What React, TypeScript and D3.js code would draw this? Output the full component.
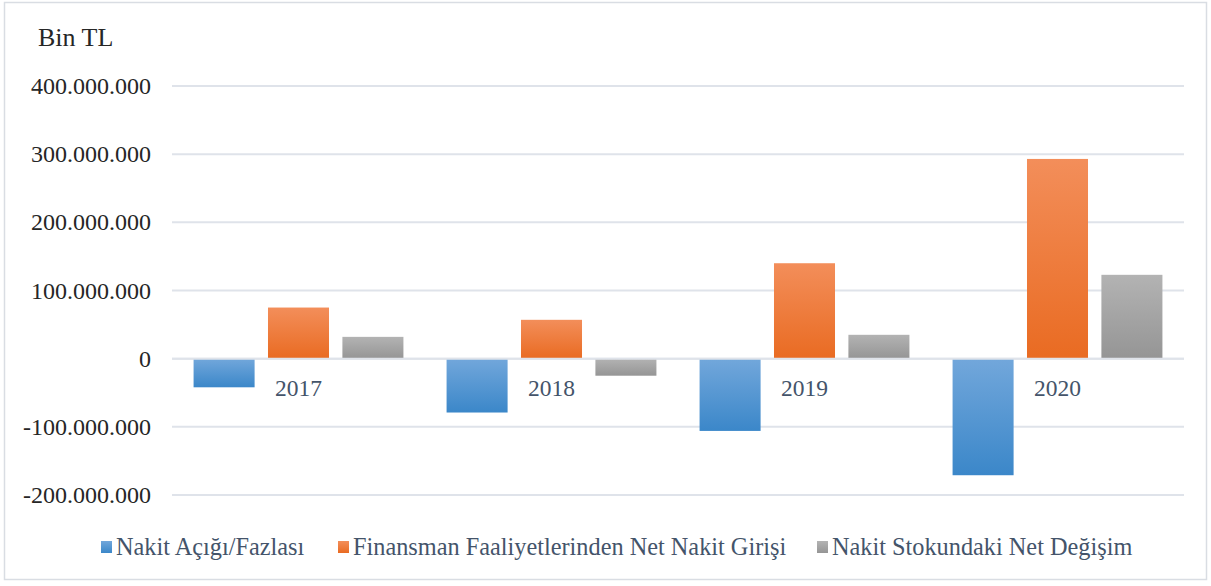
import React from "react";
import * as d3 from "d3";

const categories = ["2017", "2018", "2019", "2020"];
const seriesNames = [
  "Nakit Açığı/Fazlası",
  "Finansman Faaliyetlerinden Net Nakit Girişi",
  "Nakit Stokundaki Net Değişim",
];
const nakitAcigi = [-42000000, -79000000, -106000000, -171000000];
const finansman = [75000000, 57000000, 140000000, 293000000];
const stokDegisim = [32000000, -25000000, 35000000, 123000000];
const yTicks = [-200000000, -100000000, 0, 100000000, 200000000, 300000000, 400000000];

const seriesValues = [nakitAcigi, finansman, stokDegisim];
const gradients = [
  ["#72a7db", "#3b87c9"],
  ["#f38e5a", "#e96b22"],
  ["#b3b3b3", "#959595"],
];

const W = 1211;
const H = 586;
const left = 172;
const right = 1184;
const yTop = 86;
const yBottom = 495;
const SERIF = { fontFamily: "'Liberation Serif'" };

function fmt(v: number): string {
  const s = d3.format(",")(Math.abs(v)).replace(/,/g, ".");
  return (v < 0 ? "-" : "") + s;
}

export default function App() {
  const x = d3.scaleBand<string>().domain(categories).range([left, right]).paddingInner(0).paddingOuter(0);
  const inner = d3
    .scaleBand<number>()
    .domain([0, 1, 2])
    .range([0, x.bandwidth()])
    .paddingInner(0.18)
    .paddingOuter(0.29);
  const y = d3.scaleLinear().domain([-200000000, 400000000]).range([yBottom, yTop]);

  const legendSq = [101, 338, 817];

  return (
    <svg width={W} height={H} style={{ position: "absolute", left: 0, top: 0, background: "#fff" }}>
      <defs>
        {gradients.map((g, i) => (
          <linearGradient key={i} id={`grad${i}`} x1="0" y1="0" x2="0" y2="1">
            <stop offset="0%" stopColor={g[0]} />
            <stop offset="100%" stopColor={g[1]} />
          </linearGradient>
        ))}
      </defs>
      <rect x={4.5} y={2.5} width={1202} height={577} fill="#fff" stroke="#d9dde3" strokeWidth={1.5} />
      <text x={38} y={46} fontSize={26} fill="#262626" style={SERIF}>
        Bin TL
      </text>
      {yTicks.map((t) => (
        <g key={t}>
          <line x1={left} x2={right} y1={y(t)} y2={y(t)} stroke="#dfe3ea" strokeWidth={2} />
          <text
            x={151}
            y={y(t) + 8}
            textAnchor="end"
            fontSize={24}
            fill="#262626"
            style={SERIF}
          >
            {fmt(t)}
          </text>
        </g>
      ))}
      {categories.map((c, ci) => (
        <g key={c}>
          {seriesValues.map((vals, si) => {
            const v = vals[ci];
            const bx = (x(c) as number) + (inner(si) as number);
            const y0 = y(0);
            const y1 = y(v);
            return (
              <rect
                key={si}
                x={bx}
                y={Math.min(y0, y1)}
                width={inner.bandwidth()}
                height={Math.abs(y1 - y0)}
                fill={`url(#grad${si})`}
              />
            );
          })}
          <text
            x={(x(c) as number) + (inner(1) as number) + inner.bandwidth() / 2}
            y={396}
            textAnchor="middle"
            fontSize={23.5}
            fill="#44546a"
            style={SERIF}
          >
            {c}
          </text>
        </g>
      ))}
      <line x1={left} x2={right} y1={y(0)} y2={y(0)} stroke="#dfe3ea" strokeWidth={2} />
      {seriesNames.map((n, i) => (
        <g key={n}>
          <rect x={legendSq[i]} y={541} width={11} height={12} fill={`url(#grad${i})`} />
          <text x={legendSq[i] + 15} y={555} fontSize={24.3} fill="#44546a" style={SERIF}>
            {n}
          </text>
        </g>
      ))}
    </svg>
  );
}
